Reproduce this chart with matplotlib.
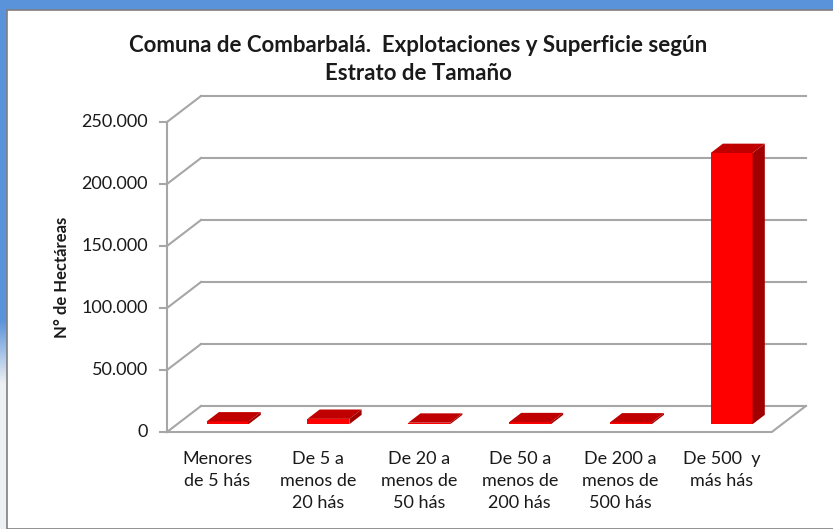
import numpy as np
import matplotlib.pyplot as plt
from matplotlib.patches import Polygon, Rectangle

plt.rcParams["font.family"] = ["Lato", "DejaVu Sans"]

# datos
categorias = ["Menores\nde 5 hás", "De 5 a\nmenos de\n20 hás", "De 20 a\nmenos de\n50 hás",
              "De 50 a\nmenos de\n200 hás", "De 200 a\nmenos de\n500 hás", "De 500  y\nmás hás"]
hectareas = [2200, 4300, 1200, 1600, 1400, 218700]
ticks_y = [0, 50000, 100000, 150000, 200000, 250000]
ticks_txt = ["0", "50.000", "100.000", "150.000", "200.000", "250.000"]

W, H = 833, 529
fig = plt.figure(figsize=(W / 100, H / 100), dpi=100)

# fondo azul (captura de pantalla)
fig.patches.append(Rectangle((0, 0), 1, 1, transform=fig.transFigure, color="#5B93DA", zorder=-3))
grad = fig.add_axes([0, 0, 7 / W, 1 - 10 / H])
grad.set_zorder(-2)
g = np.linspace(0, 1, 200)[:, None]
col_a = np.array([0.36, 0.58, 0.86])
col_b = np.array([0.93, 0.94, 0.95])
t = np.clip((g - 0.28) / 0.12, 0, 1)
grad.imshow((col_b * (1 - t[..., None]) + col_a * t[..., None]), aspect="auto", origin="lower")
grad.axis("off")
fig.patches.append(Rectangle((7 / W, 0), 1, 1 - 10 / H, transform=fig.transFigure,
                             facecolor="white", edgecolor="#7F7F7F", lw=1.2, zorder=-1))

# ejes "3D" dibujados en coordenadas de datos
px_cat = 100.8          # pixeles por categoria
px_val = 62 / 50000     # pixeles por unidad
x0_px, y0_px = 167, 432
ax = fig.add_axes([0, 0, 1, 1])
ax.set_zorder(3)
ax.set_xlim(-0.5 - x0_px / px_cat, -0.5 + (W - x0_px) / px_cat)
ax.set_ylim(-(H - y0_px) / px_val, y0_px / px_val)
ax.axis("off")
ax.patch.set_alpha(0)

DX = 34 / px_cat        # profundidad de la pared
DY = 26 / px_val
n = len(categorias)
xl, xr = -0.5, n - 0.5
grid_c = "#A6A6A6"

def proj(x, y, d):
    return (x + d * DX, y + d * DY)

for v, lab in zip(ticks_y, ticks_txt):
    bx, by = proj(xl, v, 1)
    ax.plot([xl, bx], [v, by], color=grid_c, lw=1.5, zorder=2)
    ax.plot([bx, proj(xr, v, 1)[0]], [by, by], color=grid_c, lw=1.5, zorder=2)
    ax.plot([xl - 7 / px_cat, xl], [v, v], color=grid_c, lw=1.5, zorder=2)
    ax.text(xl - 19 / px_cat, v, lab, ha="right", va="center", fontsize=13, color="#1A1A1A")

ax.plot([xl, xl], [0, ticks_y[-1]], color=grid_c, lw=1.5, zorder=2)
ax.plot([xl, xr, proj(xr, 0, 1)[0]], [0, 0, proj(xr, 0, 1)[1]], color=grid_c, lw=1.5, zorder=2)

# barras
hw = 0.208
d0, d1 = 0.30, 0.66
for i, v in enumerate(hectareas):
    fx0, fy0 = proj(i - hw, 0, d0)
    fx1, _ = proj(i + hw, 0, d0)
    bx0, by0 = proj(i - hw, 0, d1)
    bx1, _ = proj(i + hw, 0, d1)
    front = [(fx0, fy0), (fx1, fy0), (fx1, fy0 + v), (fx0, fy0 + v)]
    side = [(fx1, fy0), (bx1, by0), (bx1, by0 + v), (fx1, fy0 + v)]
    top = [(fx0, fy0 + v), (fx1, fy0 + v), (bx1, by0 + v), (bx0, by0 + v)]
    ax.add_patch(Polygon(front, closed=True, facecolor="#FF0000", edgecolor="none", zorder=4))
    ax.add_patch(Polygon(side, closed=True, facecolor="#A00000", edgecolor="none", zorder=4))
    ax.add_patch(Polygon(top, closed=True, facecolor="#C00000", edgecolor="none", zorder=5))
    ax.text(i, -19 / px_val, categorias[i], ha="center", va="top", fontsize=13,
            linespacing=1.45, color="#1A1A1A")

fig.text(0.502, 1 - 46 / H, "Comuna de Combarbalá.  Explotaciones y Superficie según",
         ha="center", va="center", fontsize=16, fontweight="bold", color="#1A1A1A", zorder=4)
fig.text(0.502, 1 - 74 / H, "Estrato de Tamaño",
         ha="center", va="center", fontsize=16, fontweight="bold", color="#1A1A1A", zorder=4)
fig.text(62 / W, 1 - 277 / H, "N° de Hectáreas", rotation=90, ha="center", va="center",
         fontsize=12, fontweight="bold", color="#1A1A1A", zorder=4)

fig.savefig("out.png", dpi=100)
